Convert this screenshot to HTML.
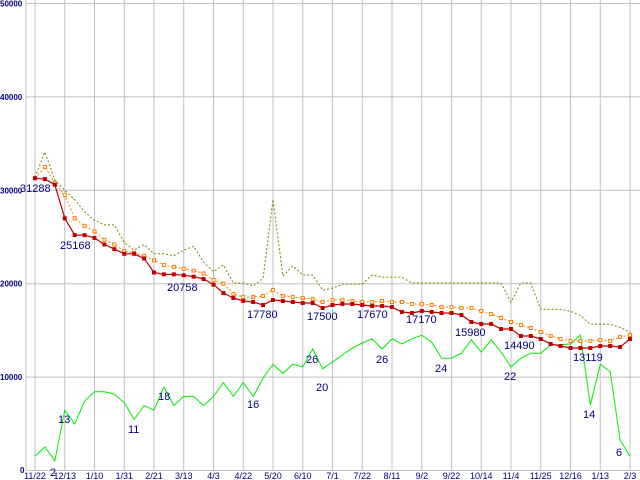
<!DOCTYPE html>
<html><head><meta charset="utf-8"><style>
html,body{margin:0;padding:0;background:#fff;}
svg{display:block;font-family:"Liberation Sans",sans-serif;}
</style></head><body>
<svg id="chart" width="640" height="480" xmlns="http://www.w3.org/2000/svg"></svg>
<script>
const xLabels=["11/22","12/13","1/10","1/31","2/21","3/13","4/3","4/22","5/20","6/10","7/1","7/22","8/11","9/2","9/22","10/14","11/4","11/25","12/16","1/13","2/3"];
const yTicks=[0,10000,20000,30000,40000,50000];
const closePrice=[31300,31200,30600,27000,25200,25200,24900,24200,23700,23200,23200,22700,21200,21000,21000,20900,20758,20500,19900,19000,18470,18150,18040,17720,18250,18150,18040,17930,17930,17400,17720,17830,17830,17720,17610,17610,17500,16970,16860,17080,16970,16860,16860,16650,15900,15690,15690,15150,15150,14400,14400,14080,13540,13330,13120,13120,13120,13330,13330,13220,14080];
const avgPrice=[31300,32500,30800,29500,27000,26200,25600,24700,24200,23500,23300,23000,22500,22000,21800,21600,21400,21100,20400,20000,18900,18580,18580,18690,19320,18690,18580,18470,18360,18040,18250,18250,18150,18040,18040,18150,18040,18040,17830,17830,17720,17500,17500,17400,17400,17080,16750,16330,15900,15580,15260,14830,14400,14080,13870,13870,13870,13970,13870,14290,14510];
const highPrice=[31400,34100,31100,30000,29000,27700,26800,26300,26300,24400,23600,24200,23200,23200,23000,23600,24000,22300,21300,22000,20070,20070,19750,20610,29000,20820,21890,20930,20930,19320,19530,19960,19960,19960,20930,20710,20710,20710,20070,20070,20070,20070,20070,20070,20070,20070,20070,20070,18040,20070,20070,17250,17250,17250,17040,16610,15650,15650,15650,15330,14800];
const volume=[3,5,2,13,10,15,17,17,16.5,14.6,11,14,13,18,14,16,16,14,16,19,16,19,16,20,23,21,23,22.4,26.3,22,23.5,25,26.5,27.6,28.5,26.3,28.5,27.4,28.5,29.3,27.8,24.3,24.3,25.4,28.3,25.6,28.3,25.6,22.4,24.3,25.4,25.4,27.2,27.2,27.4,29.3,14.1,23,21.4,6.5,3];
const priceLabels=[["31288",20,192],["25168",60,249],["20758",167,291],["17780",247,318],["17500",307,320],["17670",357,318],["17170",406,323],["15980",455,336],["14490",504,349],["13119",573,361]];
const volLabels=[["2",50,476],["13",58,423],["11",128,433],["18",158,400],["16",247,408],["26",306,363],["20",316,391],["26",376,363],["24",435,372],["22",504,380],["14",583,418],["6",616,456]];

const NS="http://www.w3.org/2000/svg";
const svg=document.getElementById('chart');
const X0=35,DX=(630-35)/60,Y0=470.5,YS=467/50000,VS=4.6;
function xi(i){return X0+DX*i;}
function yp(v){return Y0-v*YS;}
function yv(v){return 470-v*VS;}
function mk(tag,attrs){const e=document.createElementNS(NS,tag);for(const k in attrs)e.setAttribute(k,attrs[k]);svg.appendChild(e);return e;}

yTicks.forEach((t,k)=>{
  const l=mk('line',{x1:26,x2:640,y1:yp(t),y2:yp(t),stroke:'#c0c0c0','stroke-width':1});
  
  
  const tx=mk('text',{x:0,y:yp(t)+3,fill:'#000080','font-size':8,'font-weight':'bold'});
  tx.textContent=t===0?'':String(t);
  
  
});
const z=mk('text',{x:20,y:473,fill:'#000080','font-size':8,'font-weight':'bold'});z.textContent='0';


const ax=mk('line',{x1:26,x2:26,y1:0,y2:471,stroke:'#c0c0c0'});


xLabels.forEach((lab,k)=>{
  const x=X0+k*3*DX;
  const l=mk('line',{x1:x,x2:x,y1:0,y2:471,stroke:'#c0c0c0'});
  
  
  const t=mk('text',{x:x,y:479,fill:'#000080','font-size':9,'text-anchor':'middle'});
  t.textContent=lab;
  
  
});

function line(arr,fy,attrs,name){
  const p=mk('polyline',Object.assign({points:arr.map((v,i)=>xi(i).toFixed(1)+','+fy(v).toFixed(1)).join(' '),fill:'none'},attrs));
  
  
}
line(volume,yv,{stroke:'#00ee00','stroke-width':1},'volume-line');
line(highPrice,yp,{stroke:'#808000','stroke-width':1,'stroke-dasharray':'2,2'},'high-price-line');
line(avgPrice,yp,{stroke:'#ff8000','stroke-width':1,'stroke-dasharray':'2,2'},'moving-average-line');
avgPrice.forEach((v,i)=>{
  const r=mk('rect',{x:xi(i)-1.5,y:yp(v)-1.5,width:3,height:3,fill:'#fff',stroke:'#ff8000','stroke-width':1});
  
  
});
line(closePrice,yp,{stroke:'#c00000','stroke-width':1.2},'close-price-line');
closePrice.forEach((v,i)=>{
  const r=mk('rect',{x:xi(i)-2,y:yp(v)-2,width:4,height:4,fill:'#c00000'});
  
  
});
priceLabels.forEach(a=>{
  const t=mk('text',{x:a[1],y:a[2],fill:'#000080','font-size':11});
  t.textContent=a[0];
  
  
});
volLabels.forEach(a=>{
  const t=mk('text',{x:a[1],y:a[2],fill:'#000080','font-size':11});
  t.textContent=a[0];
  
  
});
</script>
</body></html>
